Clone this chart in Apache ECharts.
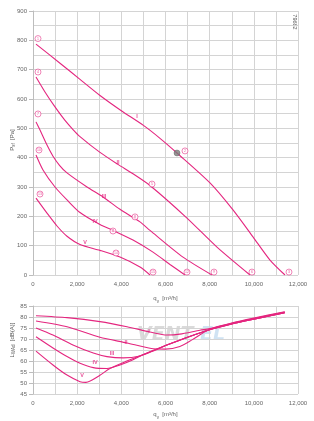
<!DOCTYPE html>
<html>
<head>
<meta charset="utf-8">
<script src="https://cdn.jsdelivr.net/npm/echarts@6/dist/echarts.min.js"></script>
<style>
  html, body { margin: 0; padding: 0; background: #fff; }
  #chart { width: 314px; height: 421px; }
</style>
</head>
<body>
<div id="chart"></div>
<script>
// pressure curves, q [m3/h] / psf [Pa]
const qI = [136, 1223, 2128, 3034, 4000, 5000, 5751, 6521, 8015, 9056, 9962, 10732, 11411];
const pI = [787, 722, 667, 612, 560, 510, 466, 416, 314, 222, 130, 51, 0];
const qII = [136, 543, 996, 1449, 1811, 2128, 3034, 3849, 4528, 5298, 6973, 8331, 9826];
const pII = [675, 624, 573, 527, 496, 472, 418, 377, 345, 305, 194, 95, 0];
const qIII = [136, 317, 634, 906, 1200, 1540, 2445, 3170, 3939, 4845, 5298, 6792, 8105];
const pIII = [522, 494, 443, 405, 374, 348, 300, 266, 224, 181, 152, 61, 0];
const qIV = [136, 453, 996, 1540, 2128, 3034, 3622, 4528, 5434, 6203, 6882];
const pIV = [409, 358, 300, 256, 213, 172, 152, 119, 78, 36, 0];
const qV = [136, 634, 1087, 1540, 2128, 3034, 3939, 4845, 5298];
const pV = [262, 211, 167, 132, 104, 84, 61, 27, 0];

// sound power curves, q [m3/h] / LwA [dB(A)]
const sqI = [136, 1540, 3030, 4256, 5298, 6068, 6650, 7560, 8000, 9000, 10000, 11400];
const sI = [80.6, 79.7, 77.9, 75.6, 73.2, 71.8, 72.2, 74.0, 74.7, 77.3, 79.5, 82.4];
const sqII = [136, 1540, 3030, 4256, 5300, 6000, 6650, 7200, 8000, 9000, 10000, 11400];
const sII = [78.2, 75.6, 70.8, 68.2, 65.8, 65.4, 66.6, 69.6, 74.4, 77.1, 79.3, 82.2];
const sqIII = [136, 905, 1810, 2730, 3350, 4080, 4850, 5500, 6000, 7000, 8000, 9000, 10000, 11400];
const sIII = [75, 71.8, 67.3, 63.6, 62, 61.4, 62.3, 64.8, 67, 70.8, 74.2, 76.8, 79, 82];
const sqIV = [136, 905, 1540, 2130, 2730, 3350, 3940, 4530, 5000, 6000, 7000, 8000, 9000, 10000, 11400];
const sIV = [71, 65.9, 62, 59, 57, 56.6, 58.2, 60.6, 63, 67, 70.8, 74.2, 76.8, 79, 82];
const sqV = [136, 905, 1540, 2130, 2400, 3030, 3480, 4250, 5000, 6000, 7000, 8000, 9000, 10000, 11400];
const sV = [64.5, 58.2, 53.6, 50.6, 50.3, 53.5, 56.6, 60, 63, 67, 70.8, 74.2, 76.8, 79, 82];

// numbered operating points on the pressure chart
const markQ = [226, 6883, 11592, 226, 5388, 9916, 226, 4619, 8196, 272, 3622, 6973, 317, 3758, 5434];
const markP = [806, 423, 10, 692, 310, 10, 549, 198, 10, 426, 150, 10, 276, 75, 10];
const markNo = [1, 2, 3, 4, 5, 6, 7, 8, 9, 10, 11, 12, 13, 14, 15];
const greyPoint = [6521, 416];

// curve labels
const curveNames = ["I", "II", "III", "IV", "V"];
const labelQ = [4709, 3849, 3215, 2807, 2355];
const labelP = [539, 385, 266, 184, 112];
const sLabelQ = [5253, 4211, 3577, 2807, 2219];
const sLabelL = [73.6, 68.6, 63.2, 59.1, 53.2];

const pink = "#e4267f";
const grid = "#d4d4d4";
const txt = "#666";

const zip = (a, b) => a.map((v, i) => [v, b[i]]);
const fmt = (v) => v.toLocaleString("en-US");

function xAxisCfg(gridIndex) {
  return {
    type: "value",
    gridIndex,
    min: 0,
    max: 12000,
    interval: 2000,
    name: "{q|q}{s|v} {q|[m³/h]}",
    nameLocation: "middle",
    nameGap: 14,
    nameTextStyle: {
      rich: {
        q: { fontSize: 6, color: txt },
        s: { fontSize: 4.5, color: txt, verticalAlign: "bottom", padding: [4, 0, 0, 0] },
      },
    },
    axisLine: { show: false },
    axisTick: { show: false },
    axisLabel: { fontSize: 6, color: txt, margin: 6, formatter: fmt },
    splitLine: { show: true, lineStyle: { color: grid, width: 1 } },
    minorTick: { show: false, splitNumber: 2 },
    minorSplitLine: { show: true, lineStyle: { color: grid, width: 1 } },
  };
}

function yAxisCfg(gridIndex, min, max, interval, minor) {
  return {
    type: "value",
    gridIndex,
    min,
    max,
    interval,
    axisLine: { show: true, lineStyle: { color: "#bdbdbd" } },
    axisTick: { show: true, length: 4, lineStyle: { color: "#bdbdbd" } },
    axisLabel: { fontSize: 6, color: txt, margin: 6 },
    splitLine: { show: true, lineStyle: { color: grid, width: 1 } },
    minorTick: { show: false, splitNumber: minor },
    minorSplitLine: { show: minor > 1, lineStyle: { color: grid, width: 1 } },
  };
}

function curve(q, v, axis) {
  return {
    type: "line",
    xAxisIndex: axis,
    yAxisIndex: axis,
    data: zip(q, v),
    smooth: 0.25,
    symbol: "none",
    lineStyle: { color: pink, width: 1.1 },
    z: 3,
    silent: true,
  };
}

function nameLabels(q, v, axis) {
  return {
    type: "scatter",
    xAxisIndex: axis,
    yAxisIndex: axis,
    symbolSize: 2,
    itemStyle: { color: "rgba(0,0,0,0)" },
    data: q.map((x, i) => ({ value: [x, v[i]], name: curveNames[i] })),
    label: {
      show: true,
      position: "inside",
      formatter: (p) => p.name,
      fontSize: 5.5,
      fontWeight: "bold",
      color: pink,
    },
    z: 5,
  };
}

const myChart = echarts.init(document.getElementById("chart"));

myChart.setOption({
  animation: false,
  textStyle: { fontFamily: "Liberation Sans, Arial, sans-serif" },
  grid: [
    { left: 33, top: 11, width: 265, height: 264 },
    { left: 33, top: 306, width: 265, height: 88 },
  ],
  xAxis: [xAxisCfg(0), xAxisCfg(1)],
  yAxis: [yAxisCfg(0, 0, 900, 100, 2), yAxisCfg(1, 45, 85, 5, 1)],
  graphic: [
    {
      type: "text",
      x: 12,
      y: 140,
      rotation: Math.PI / 2,
      style: {
        text: "{a|P}{b|sf} {a|[Pa]}",
        align: "center",
        verticalAlign: "middle",
        rich: {
          a: { fontSize: 6, fill: "#555", fontFamily: "Liberation Sans" },
          b: { fontSize: 4.5, fill: "#555", fontFamily: "Liberation Sans", padding: [4, 0, 0, 0] },
        },
      },
    },
    {
      type: "text",
      x: 12,
      y: 340,
      rotation: Math.PI / 2,
      style: {
        text: "{a|L}{b|WAd} {a|[dB(A)]}",
        align: "center",
        verticalAlign: "middle",
        rich: {
          a: { fontSize: 6, fill: "#555", fontFamily: "Liberation Sans" },
          b: { fontSize: 4.5, fill: "#555", fontFamily: "Liberation Sans", padding: [4, 0, 0, 0] },
        },
      },
    },
    {
      type: "text",
      x: 295,
      y: 22,
      rotation: -Math.PI / 2,
      style: {
        text: "79682",
        fontSize: 5.5,
        fill: "#555",
        align: "center",
        verticalAlign: "middle",
        fontFamily: "Liberation Sans",
      },
    },
    {
      type: "text",
      x: 137,
      y: 335,
      z: -1,
      style: {
        text: "VENT",
        fontSize: 19,
        fontStyle: "italic",
        fontWeight: "bold",
        fill: "rgba(150,150,150,0.35)",
        verticalAlign: "middle",
        fontFamily: "DejaVu Sans",
      },
    },
    {
      type: "text",
      x: 200,
      y: 335,
      z: -1,
      style: {
        text: "EL",
        fontSize: 19,
        fontStyle: "italic",
        fontWeight: "bold",
        fill: "rgba(120,175,220,0.35)",
        verticalAlign: "middle",
        fontFamily: "DejaVu Sans",
      },
    },
  ],
  series: [
    curve(qI, pI, 0),
    curve(qII, pII, 0),
    curve(qIII, pIII, 0),
    curve(qIV, pIV, 0),
    curve(qV, pV, 0),
    curve(sqI, sI, 1),
    curve(sqII, sII, 1),
    curve(sqIII, sIII, 1),
    curve(sqIV, sIV, 1),
    curve(sqV, sV, 1),
    {
      type: "scatter",
      xAxisIndex: 0,
      yAxisIndex: 0,
      symbol: "circle",
      symbolSize: 6,
      itemStyle: { color: "#fff", borderColor: pink, borderWidth: 0.7 },
      data: markQ.map((x, i) => [x, markP[i], markNo[i]]),
      label: {
        show: true,
        position: "inside",
        formatter: (p) => p.value[2],
        fontSize: 3.5,
        color: pink,
      },
      z: 4,
    },
    {
      type: "scatter",
      xAxisIndex: 0,
      yAxisIndex: 0,
      symbol: "circle",
      symbolSize: 6,
      itemStyle: { color: "#7a7a7a", borderColor: "#555", borderWidth: 0.5 },
      data: [greyPoint],
      z: 4,
    },
    nameLabels(labelQ, labelP, 0),
    nameLabels(sLabelQ, sLabelL, 1),
  ],
});
</script>
</body>
</html>
